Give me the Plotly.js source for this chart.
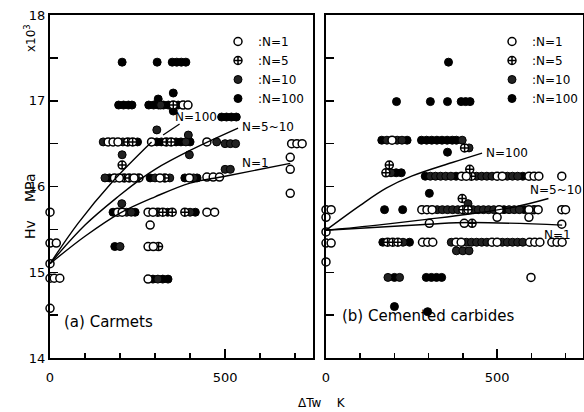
<!DOCTYPE html>
<html>
<head>
<meta charset="utf-8">
<script src="https://cdn.plot.ly/plotly-3.0.1.min.js"></script>
<style>html,body{margin:0;padding:0;background:#fff;}#chart{width:584px;height:412px;}</style>
</head>
<body>
<div id="chart"></div>
<script>
// ---------- (a) Cermets : temperature rise dTw (K) vs Hv (x10^3 MPa) ----------
const aX1 = [0,0,18,0,0,12,28,0, 166,180,194,290,448, 184,198,240,314,398,448,466,484, 193,206,280,294,448,470, 286, 280,295, 280, 690,705,720, 686,686,686, 380,394];
const aY1 = [15.7,15.34,15.34,15.1,14.93,14.93,14.93,14.58, 16.52,16.52,16.52,16.52,16.52, 16.1,16.1,16.1,16.1,16.1,16.11,16.11,16.11, 15.7,15.7,15.7,15.7,15.7,15.7, 15.55, 15.3,15.3, 14.92, 16.5,16.5,16.5, 16.34,16.2,15.92, 16.95,16.95];
const aX5 = [222,236,332,346, 206, 212,226,254,328, 308,322,349,385, 310, 352];
const aY5 = [16.52,16.52,16.52,16.52, 16.25, 16.1,16.1,16.1,16.1, 15.7,15.7,15.7,15.7, 15.3, 16.95];
const aX10 = [316, 305, 395, 152,208,388,476, 500,515,530, 206, 398, 157,300,342,410, 500,515, 205, 219,232,400, 200, 308];
const aY10 = [16.95, 16.66, 16.6, 16.52,16.52,16.52,16.52, 16.5,16.5,16.5, 16.37, 16.37, 16.1,16.1,16.1,16.1, 16.2,16.2, 15.8, 15.7,15.7,15.7, 15.3, 14.92];
const aX100 = [206,306,349,362,375,388, 352, 309, 196,210,224,234,282,296,310,324,338,366, 352, 490,504,518,532, 250,305,318,360,374,400, 170,286,385,420, 180,243,336,415, 185, 294,322,337];
const aY100 = [17.45,17.45,17.45,17.45,17.45,17.45, 17.09, 17.02, 16.95,16.95,16.95,16.95,16.95,16.95,16.95,16.95,16.95,16.95, 16.88, 16.81,16.81,16.81,16.81, 16.52,16.52,16.52,16.52,16.52,16.52, 16.1,16.1,16.1,16.1, 15.7,15.7,15.7,15.7, 15.3, 14.92,14.92,14.92];
// fitted curves (a)
const aFit1X = [0,100,200,300,400,500,686];
const aFit1Y = [15.1,15.42,15.69,15.88,16.04,16.12,16.27];
const aFit5X = [0,100,200,257,300,400,537];
const aFit5Y = [15.1,15.55,15.9,16.08,16.2,16.42,16.68];
const aFit100X = [0,80,177,290];
const aFit100Y = [15.1,15.57,16.05,16.52];

// ---------- (b) Cemented carbides ----------
const bX1 = [0,15,0,0,0,15,0, 193, 396,410,500,515,593,608,622,689, 280,295,310,506,593,620,689,700, 500,593, 302,404, 282,297,312,380,395,485,500,595,610,625,660,675,690, 599, 689];
const bY1 = [15.73,15.73,15.64,15.47,15.34,15.34,15.12, 16.54, 16.12,16.12,16.12,16.12,16.12,16.12,16.12,16.12, 15.73,15.73,15.73,15.73,15.73,15.73,15.73,15.73, 15.64,15.64, 15.57,15.57, 15.35,15.35,15.35,15.35,15.35,15.35,15.35,15.35,15.35,15.35,15.35,15.35,15.35, 14.94, 15.56];
const bX5 = [175,185, 425, 400,415,608, 398, 405, 427, 180,195,210, 420];
const bY5 = [16.16,16.25, 16.12, 15.73,15.73,15.73, 15.86, 16.45, 15.57, 15.35,15.35,15.35, 16.2];
const bX10 = [178,208,222, 398, 418, 190, 305,320,335,350,365,440,455,470,485,530,545,560, 415, 325,340,355,370,385,430,445,460,475,490,535,550,565, 225,366,410,425,440,455,470,515,530,545,560,575, 381,400,418, 181,215];
const bY10 = [16.54,16.54,16.54, 16.54, 16.45, 16.16, 16.12,16.12,16.12,16.12,16.12,16.12,16.12,16.12,16.12,16.12,16.12,16.12, 15.8, 15.73,15.73,15.73,15.73,15.73,15.73,15.73,15.73,15.73,15.73,15.73,15.73,15.73, 15.35,15.35,15.35,15.35,15.35,15.35,15.35,15.35,15.35,15.35,15.35,15.35, 15.25,15.25,15.25, 14.94,14.94];
const bX100 = [358, 206,305,355,395,408,421, 163,237, 279,294,309,324,339,354,369,381, 355, 205,220, 290,380,575, 302, 171,224,520,580, 166,244, 200,293,308,323,338, 200, 297];
const bY100 = [17.45, 16.99,16.99,16.99,16.99,16.99,16.99, 16.54,16.54, 16.54,16.54,16.54,16.54,16.54,16.54,16.54,16.54, 16.4, 16.16,16.16, 16.12,16.12,16.12, 15.92, 15.73,15.73,15.73,15.73, 15.35,15.35, 14.94,14.94,14.94,14.94,14.94, 14.6, 14.54];
// fitted curves (b)
const bFit1X = [0,300,420,690];
const bFit1Y = [15.49,15.56,15.58,15.55];
const bFit5X = [0,150,300,420,550,650];
const bFit5Y = [15.49,15.55,15.62,15.68,15.76,15.86];
const bFit100X = [0,100,176,250,369,456];
const bFit100Y = [15.49,15.78,15.98,16.12,16.28,16.39];

const seriesNames = [':N=1', ':N=5', ':N=10', ':N=100'];

const FONT = 'DejaVu Sans, Liberation Sans, sans-serif';
const mk = {
  n1:   {symbol:'circle', size:8, color:'#fff', line:{color:'#000', width:1.5}},
  n5:   {symbol:'circle-cross', size:8, color:'#fff', line:{color:'#000', width:1.5}},
  n10:  {symbol:'circle', size:8, color:'#222', line:{color:'#000', width:1}},
  n100: {symbol:'circle', size:8, color:'#000', line:{color:'#000', width:1}}
};

function pts(x, y, name, marker, xa, ya, leg, rank) {
  return {type:'scatter', mode:'markers', x:x, y:y, name:name, marker:marker,
          xaxis:xa, yaxis:ya, legend:leg, legendrank:rank, cliponaxis:false, hoverinfo:'skip'};
}
function fit(x, y, xa, ya) {
  return {type:'scatter', mode:'lines', x:x, y:y, xaxis:xa, yaxis:ya, showlegend:false,
          line:{color:'#000', width:1.4, shape:'spline', smoothing:1}, hoverinfo:'skip'};
}

const data = [
  pts(aX100, aY100, seriesNames[3], mk.n100, 'x', 'y', 'legend', 4),
  pts(aX10, aY10, seriesNames[2], mk.n10, 'x', 'y', 'legend', 3),
  pts(aX5, aY5, seriesNames[1], mk.n5, 'x', 'y', 'legend', 2),
  pts(aX1, aY1, seriesNames[0], mk.n1, 'x', 'y', 'legend', 1),
  fit(aFit1X, aFit1Y, 'x', 'y'),
  fit(aFit5X, aFit5Y, 'x', 'y'),
  fit(aFit100X, aFit100Y, 'x', 'y'),
  pts(bX100, bY100, seriesNames[3], mk.n100, 'x2', 'y2', 'legend2', 4),
  pts(bX10, bY10, seriesNames[2], mk.n10, 'x2', 'y2', 'legend2', 3),
  pts(bX5, bY5, seriesNames[1], mk.n5, 'x2', 'y2', 'legend2', 2),
  pts(bX1, bY1, seriesNames[0], mk.n1, 'x2', 'y2', 'legend2', 1),
  fit(bFit1X, bFit1Y, 'x2', 'y2'),
  fit(bFit5X, bFit5Y, 'x2', 'y2'),
  fit(bFit100X, bFit100Y, 'x2', 'y2')
];

const W = 584, H = 412;
const xd1 = [50/W, 313/W], xd2 = [326/W, 583/W];
const yd = [1 - 358/H, 1 - 15/H];

function xax(dom, anchor) {
  return {domain:dom, anchor:anchor, range:[0,751], tickmode:'array', tickvals:[0,500],
          ticks:'inside', ticklen:9, tickwidth:1.5, tickcolor:'#000',
          minor:{dtick:100, tick0:0, ticks:'inside', ticklen:5, tickwidth:1.5, tickcolor:'#000'},
          showline:true, linewidth:2, linecolor:'#000', mirror:true,
          showgrid:false, zeroline:false, ticklabelstandoff:6,
          tickfont:{family:FONT, size:13, color:'#000'}};
}
function yax(anchor, labels) {
  return {domain:yd, anchor:anchor, range:[14,18], dtick:1, tick0:14,
          ticks:'inside', ticklen:8, tickwidth:1.5, tickcolor:'#000',
          minor:{dtick:0.5, tick0:14, ticks:'inside', ticklen:8, tickwidth:1.5, tickcolor:'#000'},
          showline:true, linewidth:2, linecolor:'#000', mirror:true,
          showgrid:false, zeroline:false, showticklabels:labels,
          tickfont:{family:FONT, size:13, color:'#000'}};
}
function legend(xpx) {
  return {x:xpx/W, xanchor:'left', y:1 - 27/H, yanchor:'top', bgcolor:'rgba(0,0,0,0)',
          font:{family:FONT, size:12, color:'#000'}, itemwidth:30, tracegroupgap:0};
}
function txt(text, x, y, xref, yref, opts) {
  return Object.assign({text:text, x:x, y:y, xref:xref, yref:yref, showarrow:false,
          font:{family:FONT, size:12, color:'#000'}}, opts || {});
}

const layout = {
  width:W, height:H, margin:{l:0, r:0, t:0, b:0},
  paper_bgcolor:'#fff', plot_bgcolor:'#fff', showlegend:true,
  xaxis:xax(xd1, 'y'), yaxis:yax('x', true),
  xaxis2:xax(xd2, 'y2'), yaxis2:yax('x2', false),
  legend:legend(218), legend2:legend(492),
  shapes:[
    {type:'line', xref:'x', yref:'y', x0:323, y0:16.6, x1:370, y1:16.73, line:{color:'#000', width:1.2}}
  ],
  annotations:[
    txt('N=100', 352, 16.81, 'x', 'y', {xanchor:'left'}),
    txt('N=5~10', 543, 16.69, 'x', 'y', {xanchor:'left'}),
    txt('N=1', 543, 16.27, 'x', 'y', {xanchor:'left'}),
    txt('N=100', 462, 16.39, 'x2', 'y2', {xanchor:'left'}),
    txt('N=5~10', 590, 15.96, 'x2', 'y2', {xanchor:'left'}),
    txt('N=1', 630, 15.43, 'x2', 'y2', {xanchor:'left'}),
    txt('(a) Carmets', 62/W, 1 - 333/H, 'paper', 'paper', {xanchor:'left', font:{family:FONT, size:15, color:'#000'}}),
    txt('(b) Cemented carbides', 340/W, 1 - 327/H, 'paper', 'paper', {xanchor:'left', font:{family:FONT, size:15, color:'#000'}}),
    txt('Hv', 20/W, 1 - 230/H, 'paper', 'paper', {textangle:-90, font:{family:FONT, size:14, color:'#000'}}),
    txt('MPa', 20/W, 1 - 188/H, 'paper', 'paper', {textangle:-90, font:{family:FONT, size:14, color:'#000'}}),
    txt('x10<sup>3</sup>', 20/W, 1 - 22/H, 'paper', 'paper', {textangle:-90, font:{family:FONT, size:12, color:'#000'}}),
    txt('\u0394Tw    K', 322/W, 1 - 412/H, 'paper', 'paper', {yanchor:'bottom', font:{family:FONT, size:12, color:'#000'}})
  ]
};

Plotly.newPlot('chart', data, layout, {staticPlot:true, displayModeBar:false});
</script>
</body>
</html>
